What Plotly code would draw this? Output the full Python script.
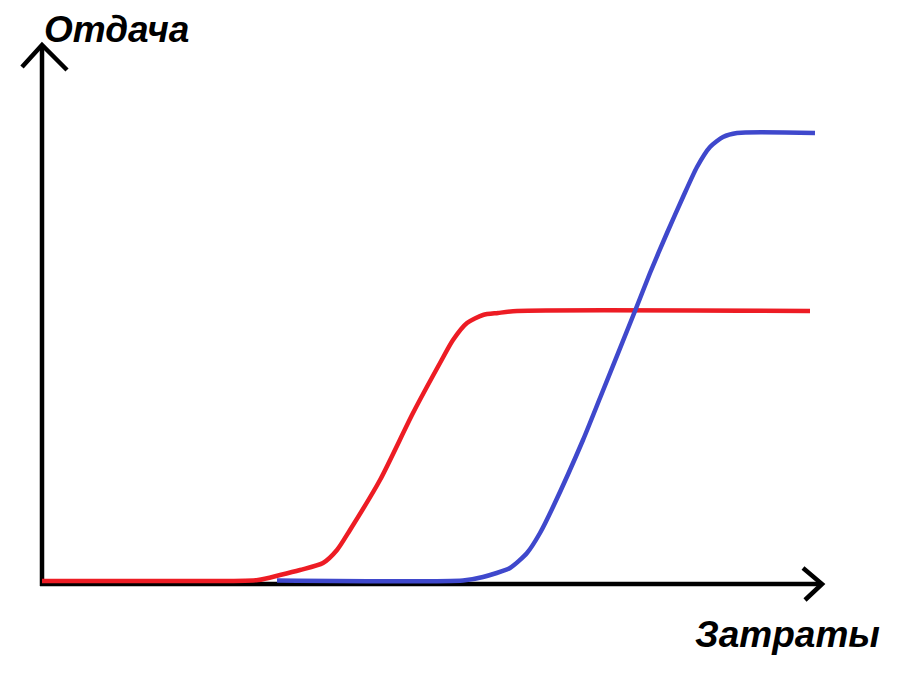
import plotly.graph_objects as go

# Data (units: chart units, origin at the axes' intersection)
red_x = [0, 150, 216, 238, 258, 281, 295, 308, 338, 371, 398, 411, 425, 441, 456, 475, 768]
red_y = [3, 3, 4, 9, 14, 21, 34, 54, 104, 171, 221, 244, 261, 269, 271, 273, 273]
blue_x = [235, 421, 441, 468, 485, 498, 511, 541, 558, 593, 608, 625, 641, 655, 668, 681, 695, 773]
blue_y = [3.5, 3.5, 7, 16, 31, 51, 77, 144, 186, 273, 311, 351, 387, 417, 437, 447, 451, 451]

y_axis_x = [-20, 0, 25, None, 0, 0]
y_axis_y = [517, 539, 514, None, 539, -2]
x_axis_x = [-2, 780, None, 761, 780, 763]
x_axis_y = [0, 0, None, 16, 0, -16]

y_label = "Отдача"
x_label = "Затраты"

RED = "#ED1C24"
BLUE = "#3F48CC"

fig = go.Figure()
fig.add_trace(go.Scatter(x=y_axis_x, y=y_axis_y, mode="lines",
                         line=dict(color="black", width=4.5), hoverinfo="skip"))
fig.add_trace(go.Scatter(x=x_axis_x, y=x_axis_y, mode="lines",
                         line=dict(color="black", width=4.5), hoverinfo="skip"))
fig.add_trace(go.Scatter(x=red_x, y=red_y, mode="lines",
                         line=dict(color=RED, width=4.5, shape="spline", smoothing=0.7)))
fig.add_trace(go.Scatter(x=blue_x, y=blue_y, mode="lines",
                         line=dict(color=BLUE, width=4.5, shape="spline", smoothing=0.6)))

font = dict(family="Liberation Sans, Arial", size=37, color="black")
fig.add_annotation(x=0, y=555, xref="x", yref="y", text=f"<b><i>{y_label}</i></b>",
                   showarrow=False, xanchor="left", yanchor="middle", font=font)
fig.add_annotation(x=651, y=-50, xref="x", yref="y", text=f"<b><i>{x_label}</i></b>",
                   showarrow=False, xanchor="left", yanchor="middle", font=font)

fig.update_layout(
    width=902, height=696,
    margin=dict(l=0, r=0, t=0, b=0),
    paper_bgcolor="white", plot_bgcolor="white",
    showlegend=False,
    xaxis=dict(range=[-42, 860], visible=False, fixedrange=True),
    yaxis=dict(range=[-112, 584], visible=False, fixedrange=True),
)
fig.write_html("out.html")
